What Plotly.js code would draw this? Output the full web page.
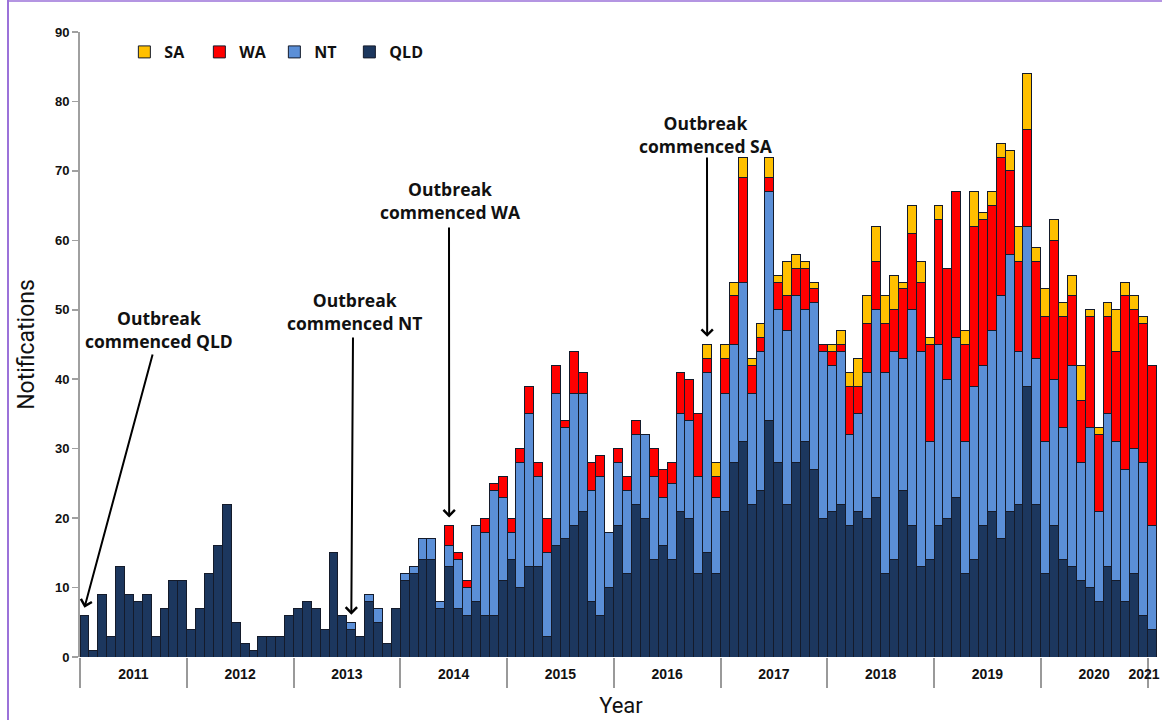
<!DOCTYPE html>
<html>
<head>
<meta charset="utf-8">
<script src="https://cdn.plot.ly/plotly-3.0.1.min.js"></script>
<style>
  html, body { margin: 0; padding: 0; background: #ffffff; }
  #chart { width: 1162px; height: 720px; }
</style>
</head>
<body>
<div id="chart"></div>
<script>
// ---- Data (monthly notifications, Jan 2011 .. Jan 2021) ----
const years = ['2011','2012','2013','2014','2015','2016','2017','2018','2019','2020'];
const monthNames = ['01','02','03','04','05','06','07','08','09','10','11','12'];
const months = [];
years.forEach(y => monthNames.forEach(m => months.push(y + '-' + m)));
months.push('2021-01');

const QLD = [
  6,1,9,3,13,9,8,9,3,7,11,11,
  4,7,12,16,22,5,2,1,3,3,3,6,
  7,8,7,4,15,6,4,3,8,5,2,7,
  11,12,14,14,7,13,7,6,8,6,6,11,
  14,10,13,13,3,16,17,19,21,8,6,10,
  19,12,22,20,14,16,14,21,20,12,15,12,
  21,28,31,22,24,34,28,22,28,31,27,20,
  21,22,19,21,20,23,12,14,24,19,13,14,
  19,20,23,12,14,19,21,17,21,22,39,22,
  12,19,14,13,11,10,8,13,11,8,12,6,
  4
];
const NT = [
  0,0,0,0,0,0,0,0,0,0,0,0,
  0,0,0,0,0,0,0,0,0,0,0,0,
  0,0,0,0,0,0,1,0,1,2,0,0,
  1,1,3,3,1,3,7,4,11,12,18,12,
  4,18,22,13,12,22,16,19,17,16,20,8,
  9,12,10,12,12,7,11,14,14,14,26,11,
  17,17,23,16,20,33,22,25,24,19,24,24,
  21,22,13,14,21,27,29,30,19,31,31,17,
  26,20,23,19,25,23,26,35,37,22,23,21,
  19,21,19,29,17,23,13,22,20,19,18,22,
  15
];
const WA = [
  0,0,0,0,0,0,0,0,0,0,0,0,
  0,0,0,0,0,0,0,0,0,0,0,0,
  0,0,0,0,0,0,0,0,0,0,0,0,
  0,0,0,0,0,3,1,1,0,2,1,3,
  2,2,4,2,5,4,1,6,3,4,3,0,
  2,2,2,0,4,4,3,6,6,9,2,3,
  5,7,15,4,2,2,4,5,4,6,2,1,
  2,1,7,4,7,7,7,6,10,11,10,14,
  18,16,21,14,23,21,18,20,12,13,14,14,
  18,20,16,10,9,16,11,14,13,25,20,20,
  23
];
const SA = [
  0,0,0,0,0,0,0,0,0,0,0,0,
  0,0,0,0,0,0,0,0,0,0,0,0,
  0,0,0,0,0,0,0,0,0,0,0,0,
  0,0,0,0,0,0,0,0,0,0,0,0,
  0,0,0,0,0,0,0,0,0,0,0,0,
  0,0,0,0,0,0,0,0,0,0,2,2,
  2,2,3,1,2,3,1,5,2,1,1,0,
  1,2,2,4,4,5,4,5,1,4,3,1,
  2,0,0,2,5,1,2,2,3,5,8,2,
  4,3,2,3,5,1,1,2,6,2,2,1,
  0
];
const yearLabels = ['2011','2012','2013','2014','2015','2016','2017','2018','2019','2020','2021'];
const outbreaks = [
  {label: 'Outbreak<br>commenced QLD', month: '2011-01'},
  {label: 'Outbreak<br>commenced NT',  month: '2013-07'},
  {label: 'Outbreak<br>commenced WA',  month: '2014-06'},
  {label: 'Outbreak<br>commenced SA',  month: '2016-11'}
];

// ---- Build ----
const xIdx = months.map((m, i) => i);
const totals = months.map((m, i) => QLD[i] + NT[i] + WA[i] + SA[i]);
const lineStyle = {color: '#141b2b', width: 1};
function barTrace(name, vals, color) {
  return {type: 'bar', name: name, x: xIdx, y: vals,
          marker: {color: color, line: lineStyle}, hoverinfo: 'name+y'};
}
const traces = [
  barTrace('QLD', QLD, '#1c375e'),
  barTrace('NT', NT, '#5b8fd7'),
  barTrace('WA', WA, '#ff0000'),
  barTrace('SA', SA, '#ffc000')
];

// year separators (between Dec and Jan) and label centres
const sepVals = yearLabels.map((y, k) => 12 * k - 0.5);
const labelVals = yearLabels.map((y, k) => k < years.length ? 12 * k + 5.5 : 12 * k - 0.9);

// text and arrow positions (layout only)
const textPos = [
  {x: 159, y: 329, tailX: 153, tailY: 353},
  {x: 354, y: 311, tailX: 353, tailY: 336},
  {x: 450, y: 201, tailX: 449, tailY: 226},
  {x: 706, y: 134, tailX: 707, tailY: 156}
];
const plotL = 80, plotT = 32, plotW = 1082, plotH = 625;
const xMin = -0.5, xMax = -0.5 + plotW / 8.896, yMax = 90;
const px2x = p => xMin + (p - plotL) / plotW * (xMax - xMin);
const py2y = p => (plotT + plotH - p) / plotH * yMax;

const annFont = {family: 'Open Sans, Lato, sans-serif', size: 17.5, color: '#111', weight: 'bold'};
const annotations = [];
outbreaks.forEach((o, k) => {
  const i = months.indexOf(o.month);
  const t = textPos[k];
  annotations.push({
    xref: 'paper', yref: 'paper',
    x: (t.x - plotL) / plotW, y: 1 - (t.y - plotT) / plotH,
    xanchor: 'center', yanchor: 'middle',
    text: o.label, showarrow: false, font: annFont, align: 'center'
  });
  annotations.push({
    x: i, y: totals[i] + 1.1, xref: 'x', yref: 'y',
    ax: px2x(t.tailX), ay: py2y(t.tailY), axref: 'x', ayref: 'y',
    text: '', showarrow: true, arrowhead: 4, arrowsize: 1.1, arrowwidth: 2,
    arrowcolor: '#000', standoff: 0
  });
});

const layout = {
  width: 1162, height: 720,
  margin: {l: plotL, r: 0, t: plotT, b: 720 - plotT - plotH, pad: 0},
  paper_bgcolor: '#ffffff', plot_bgcolor: '#ffffff',
  barmode: 'stack', bargap: 0,
  showlegend: true,
  legend: {
    orientation: 'h', traceorder: 'reversed',
    x: 0.041, y: 0.968, xanchor: 'left', yanchor: 'middle',
    entrywidth: 30, entrywidthmode: 'pixels',
    font: {family: 'Open Sans, Lato, sans-serif', size: 16, color: '#111', weight: 'bold'},
    bgcolor: 'rgba(0,0,0,0)'
  },
  xaxis: {
    range: [xMin, xMax], showgrid: false, zeroline: false, showline: false,
    tickmode: 'array', tickvals: labelVals, ticktext: yearLabels,
    ticks: '', ticklabelstandoff: 7, ticklabeloverflow: 'allow',
    tickfont: {family: 'Liberation Sans, Arial, sans-serif', size: 14, color: '#111', weight: 'bold'},
    minor: {tickmode: 'array', tickvals: sepVals, ticks: 'outside', ticklen: 30,
            tickcolor: '#9a9a9a', tickwidth: 2, showgrid: false},
    title: {text: 'Year', standoff: 16,
            font: {family: 'Roboto, Open Sans, sans-serif', size: 22, color: '#111'}}
  },
  yaxis: {
    range: [0, yMax], showgrid: false, zeroline: false,
    showline: true, linecolor: '#a0a0a0', linewidth: 2,
    tickmode: 'array', tickvals: [0,10,20,30,40,50,60,70,80,90],
    ticks: 'outside', ticklen: 6, tickcolor: '#a0a0a0', tickwidth: 1.5,
    tickfont: {family: 'Liberation Sans, Arial, sans-serif', size: 13, color: '#111', weight: 'bold'},
    title: {text: 'Notifications', standoff: 14,
            font: {family: 'Roboto, Open Sans, sans-serif', size: 23, color: '#111'}}
  },
  annotations: annotations,
  shapes: [
    {type: 'line', xref: 'paper', yref: 'paper',
     x0: (8 - plotL) / plotW, x1: (8 - plotL) / plotW, y0: -0.2, y1: 1.1,
     line: {color: '#9b72d9', width: 2}},
    {type: 'line', xref: 'paper', yref: 'paper',
     x0: (8 - plotL) / plotW, x1: 1.01, y0: 1 + (plotT - 1) / plotH, y1: 1 + (plotT - 1) / plotH,
     line: {color: '#9b72d9', width: 1.5}}
  ]
};

Plotly.newPlot('chart', traces, layout, {displayModeBar: false, staticPlot: true});
</script>
</body>
</html>
